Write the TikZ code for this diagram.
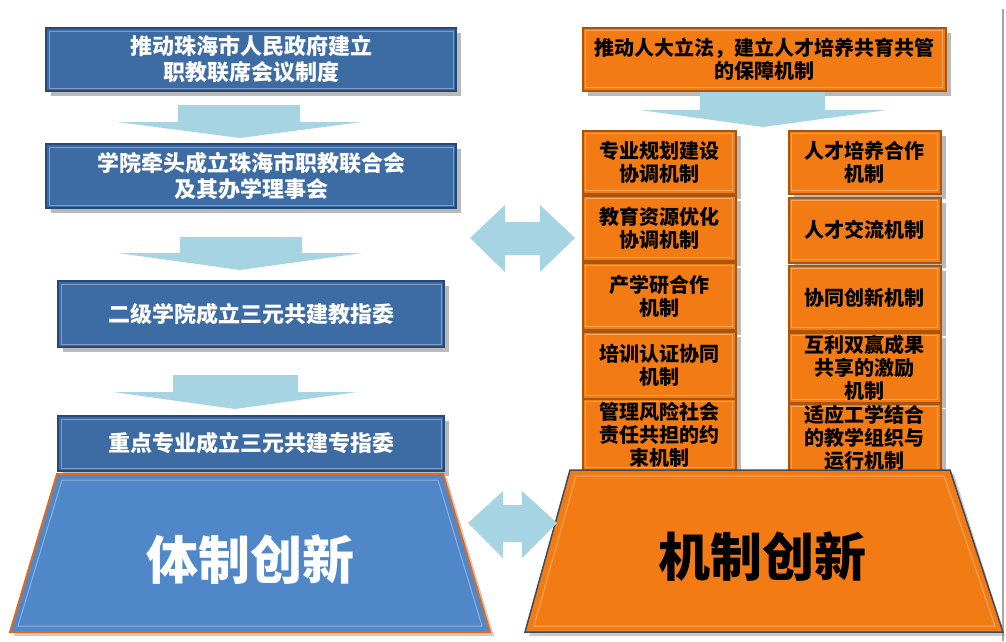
\documentclass[tikz,border=0pt]{standalone}
\usepackage{fontspec}
\newfontfamily\cjk{Noto Sans CJK SC}
\usetikzlibrary{shadows}
\definecolor{boxblue}{HTML}{3D6BA3}
\definecolor{boxblueedge}{HTML}{264878}
\definecolor{trapblue}{HTML}{4F87C9}
\definecolor{orangebox}{HTML}{F27B13}
\definecolor{orangeedge}{HTML}{A9550C}
\definecolor{arrowblue}{HTML}{A7D4E2}
\definecolor{trapedge}{HTML}{E06A1E}
\definecolor{trapdark}{HTML}{3E4B5E}
\begin{document}
\begin{tikzpicture}[x=1pt,y=-1pt,
  shadowed/.style={drop shadow={shadow xshift=5pt,shadow yshift=-5pt,fill=black!50,opacity=.55}},
  bevel/.style={path picture={\draw[white,opacity=.35,line width=1pt]
     ([shift={(3pt,-3pt)}]path picture bounding box.north west) rectangle
     ([shift={(-3pt,3pt)}]path picture bounding box.south east);}},
  bluebox/.style={shadowed,bevel,draw=boxblueedge,line width=2pt,fill=boxblue,text=white,
     font=\cjk\bfseries\fontsize{22}{26}\selectfont,align=center,anchor=north west,inner sep=0pt},
  orangebox/.style={shadowed,bevel,draw=orangeedge,line width=1.5pt,fill=orangebox,text=black,
     font=\cjk\bfseries\fontsize{20}{23}\selectfont,align=center,anchor=north west,inner sep=0pt},
  cellL/.style={orangebox,minimum width=153pt},
  cellR/.style={orangebox,minimum width=152pt},
  bigarrow/.style={fill=arrowblue,draw=none},
  bigtext/.style={font=\cjk\bfseries\fontsize{52}{56}\selectfont,inner sep=0pt}
]
\useasboundingbox (0,0) rectangle (1006,641);
\fill[white] (0,0) rectangle (1006,641);
\draw[black!35,line width=1.3pt] (1003,9) -- (1003,641);

% left column (blue)
\node[bluebox,minimum width=410pt,minimum height=63pt] (b1) at (45,27) {推动珠海市人民政府建立\\职教联席会议制度};
\node[bluebox,minimum width=410pt,minimum height=64pt] (b2) at (45,143) {学院牵头成立珠海市职教联合会\\及其办学理事会};
\node[bluebox,minimum width=386pt,minimum height=66pt] (b3) at (57,280) {二级学院成立三元共建教指委};
\node[bluebox,minimum width=386pt,minimum height=55pt] (b4) at (57,415) {重点专业成立三元共建专指委};

\path[bigarrow] (178,105) -- (300,105) -- (300,122) -- (362,122) -- (240,138) -- (117,122) -- (178,122) -- cycle;
\path[bigarrow] (180,237) -- (302,237) -- (302,253) -- (362,253) -- (240,270) -- (118,253) -- (180,253) -- cycle;
\path[bigarrow] (173,375) -- (298,375) -- (298,392) -- (357,392) -- (235,409) -- (113,392) -- (173,392) -- cycle;

% blue trapezoid
\fill[black!40,opacity=.5] (61,478) -- (447,478) -- (494,636) -- (14,636) -- cycle;
\draw[fill=trapblue,draw=trapedge,line width=2pt] (57,474) -- (443,474) -- (490,632) -- (10,632) -- cycle;
\draw[white,opacity=.35,line width=1pt] (62,480) -- (438,480) -- (482,626) -- (18,626) -- cycle;
\node[bigtext,text=white] (t1) at (250,560) {体制创新};

% right column (orange)
\node[orangebox,minimum width=363pt,minimum height=63pt] (o0) at (582,27) {推动人大立法，建立人才培养共育共管\\的保障机制};
\path[bigarrow] (700,92) -- (825,92) -- (825,110) -- (887,110) -- (763,127) -- (640,110) -- (700,110) -- cycle;

\node[cellL,minimum height=63pt] (l1) at (582,130) {专业规划建设\\协调机制};
\node[cellL,minimum height=65pt] (l2) at (582,195) {教育资源优化\\协调机制};
\node[cellL,minimum height=67pt] (l3) at (582,262) {产学研合作\\机制};
\node[cellL,minimum height=67pt] (l4) at (582,331) {培训认证协同\\机制};
\node[cellL,minimum height=72pt] (l5) at (582,398) {管理风险社会\\责任共担的约\\束机制};

\node[cellR,minimum height=63pt] (r1) at (788,130) {人才培养合作\\机制};
\node[cellR,minimum height=65pt] (r2) at (788,197) {人才交流机制};
\node[cellR,minimum height=65pt] (r3) at (788,265) {协同创新机制};
\node[cellR,minimum height=70pt] (r4) at (788,332) {互利双赢成果\\共享的激励\\机制};
\node[cellR,minimum height=69pt] (r5) at (788,403) {适应工学结合\\的教学组织与\\运行机制};

% orange trapezoid
\fill[black!40,opacity=.5] (574,474) -- (954,474) -- (1005,636) -- (529,636) -- cycle;
\draw[fill=orangebox,draw=trapdark,line width=1.5pt] (570,470) -- (950,470) -- (1003,632) -- (525,632) -- cycle;
\draw[white,opacity=.35,line width=1pt] (576,476) -- (944,476) -- (995,626) -- (534,626) -- cycle;
\node[bigtext,text=black] (t2) at (762,557) {机制创新};

% double arrows
\path[bigarrow] (470,238) -- (505,205) -- (505,222) -- (540,222) -- (540,205) -- (575,238)
   -- (540,272) -- (540,255) -- (505,255) -- (505,272) -- cycle;
\path[bigarrow] (468,523) -- (503,491) -- (503,505) -- (522,505) -- (522,491) -- (557,523)
   -- (522,558) -- (522,542) -- (503,542) -- (503,558) -- cycle;
\end{tikzpicture}
\end{document}
